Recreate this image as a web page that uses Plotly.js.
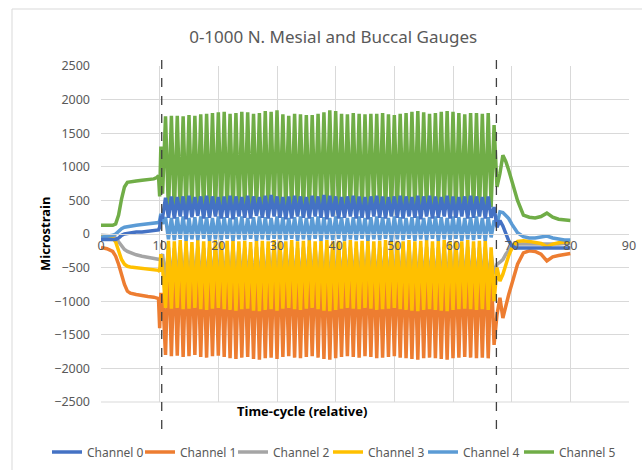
<!DOCTYPE html>
<html><head><meta charset="utf-8">
<script src="https://cdn.plot.ly/plotly-3.0.1.min.js"></script>
<style>html,body{margin:0;padding:0;background:#fff;}#chart{width:642px;height:470px;}</style>
</head><body><div id="chart"></div>
<script>
// ---- time axis (relative time-cycle) ----
var preTime = [0,1,2,2.5,3,3.5,4,4.5,5,6,7,8,9,9.5,9.8,10,10.2];
var cycleTime = [
10.5,11,11.5,12,12.5,13,13.5,14,14.5,15,15.5,16,16.5,17,17.5,18,18.5,19,19.5,20,
20.5,21,21.5,22,22.5,23,23.5,24,24.5,25,25.5,26,26.5,27,27.5,28,28.5,29,29.5,30,
30.5,31,31.5,32,32.5,33,33.5,34,34.5,35,35.5,36,36.5,37,37.5,38,38.5,39,39.5,40,
40.5,41,41.5,42,42.5,43,43.5,44,44.5,45,45.5,46,46.5,47,47.5,48,48.5,49,49.5,50,
50.5,51,51.5,52,52.5,53,53.5,54,54.5,55,55.5,56,56.5,57,57.5,58,58.5,59,59.5,60,
60.5,61,61.5,62,62.5,63,63.5,64,64.5,65,65.5,66,66.5,67];
var postTime = [67.5,68,68.5,69,69.5,70,70.5,71,72,73,74,75,76,77,78,79,80];

// ---- Channel 0 (dark blue) ----
var ch0Pre = [-80,-80,-90,-80,-60,-20,0,10,20,30,30,40,40,50,60,100,250];
var ch0Cycle = [
250,540, 240,560, 230,550, 260,560, 220,570, 250,550, 270,560, 230,570, 240,560, 260,550,
230,560, 240,570, 220,560, 260,550, 240,570, 230,560, 270,550, 240,570, 230,580, 260,560,
240,550, 220,560, 230,570, 260,560, 240,550, 230,570, 260,560, 240,580, 220,570, 260,560,
230,550, 240,560, 260,570, 230,560, 240,550, 220,560, 260,570, 240,560, 230,550, 260,560,
240,570, 230,560, 260,550, 240,570, 220,560, 260,570, 230,560, 240,550, 260,570, 230,560,
240,550, 260,560, 230,570, 240,560, 260,550, 230,560, 240,400];
var ch0Post = [100,200,120,0,-100,-170,-200,-210,-210,-210,-200,-210,-200,-210,-210,-210,-210];

// ---- Channel 1 (orange) ----
var ch1Pre = [-200,-220,-260,-330,-450,-600,-750,-850,-880,-900,-920,-930,-940,-950,-960,-1400,-900];
var ch1Cycle = [
-900,-1800, -300,-1820, -320,-1810, -280,-1830, -300,-1820, -330,-1800, -290,-1830, -310,-1840, -300,-1820, -280,-1810,
-320,-1830, -300,-1850, -290,-1860, -310,-1840, -300,-1830, -330,-1860, -290,-1870, -300,-1850, -310,-1840, -280,-1860,
-300,-1830, -320,-1820, -290,-1840, -310,-1850, -300,-1830, -280,-1820, -320,-1840, -300,-1860, -290,-1870, -310,-1850,
-300,-1830, -320,-1820, -290,-1830, -310,-1840, -300,-1820, -280,-1830, -320,-1850, -300,-1840, -290,-1830, -310,-1820,
-300,-1840, -320,-1850, -290,-1860, -310,-1870, -300,-1850, -280,-1840, -320,-1850, -300,-1860, -290,-1870, -310,-1850,
-300,-1840, -320,-1830, -290,-1840, -310,-1850, -300,-1840, -280,-1850, -500,-1650];
var ch1Post = [-1200,-950,-1250,-1050,-900,-750,-600,-450,-280,-250,-260,-300,-400,-340,-320,-300,-290];

// ---- Channel 2 (grey) ----
var ch2Pre = [-20,-20,-30,-60,-120,-180,-230,-260,-280,-310,-330,-350,-360,-370,-380,-380,-350];
var ch2Cycle = [
-300,-700, -200,-710, -210,-700, -190,-720, -200,-710, -220,-700, -190,-720, -210,-730, -200,-710, -190,-700,
-210,-720, -200,-730, -190,-740, -210,-720, -200,-710, -220,-740, -190,-750, -200,-730, -210,-720, -190,-740,
-200,-710, -210,-700, -190,-720, -210,-730, -200,-710, -190,-700, -210,-720, -200,-740, -190,-750, -210,-730,
-200,-710, -210,-700, -190,-710, -210,-720, -200,-700, -190,-710, -210,-730, -200,-720, -190,-710, -210,-700,
-200,-720, -210,-730, -190,-740, -210,-750, -200,-730, -190,-720, -210,-730, -200,-740, -190,-750, -210,-730,
-200,-720, -210,-710, -190,-720, -210,-730, -200,-720, -190,-730, -300,-600];
var ch2Post = [-450,-420,-380,-300,-230,-180,-160,-150,-150,-150,-150,-150,-160,-150,-150,-140,-140];

// ---- Channel 3 (yellow) ----
var ch3Pre = [-40,-40,-60,-120,-250,-380,-450,-480,-490,-500,-500,-510,-520,-530,-540,-560,-300];
var ch3Cycle = [
-500,-1100, -100,-1110, -110,-1100, -90,-1120, -100,-1110, -120,-1100, -90,-1120, -110,-1130, -100,-1110, -90,-1100,
-110,-1120, -100,-1130, -90,-1140, -110,-1120, -100,-1110, -120,-1140, -90,-1150, -100,-1130, -110,-1120, -90,-1140,
-100,-1110, -110,-1100, -90,-1120, -110,-1130, -100,-1110, -90,-1100, -110,-1120, -100,-1140, -90,-1150, -110,-1130,
-100,-1110, -110,-1100, -90,-1110, -110,-1120, -100,-1100, -90,-1110, -110,-1130, -100,-1120, -90,-1110, -110,-1100,
-100,-1120, -110,-1130, -90,-1140, -110,-1150, -100,-1130, -90,-1120, -110,-1130, -100,-1140, -90,-1150, -110,-1130,
-100,-1120, -110,-1110, -90,-1120, -110,-1130, -100,-1120, -90,-1130, -200,-1000];
var ch3Post = [-500,-700,-600,-450,-320,-220,-150,-110,-100,-110,-120,-140,-190,-150,-130,-120,-110];

// ---- Channel 4 (light blue) ----
var ch4Pre = [-50,-40,-20,0,40,80,100,110,120,130,140,150,150,160,170,200,300];
var ch4Cycle = [
150,250, -80,240, -90,250, -70,260, -100,240, -80,250, -90,260, -70,250, -100,240, -80,260,
-90,250, -70,240, -100,250, -80,260, -90,240, -70,250, -100,260, -80,250, -90,240, -70,260,
-80,250, -90,240, -70,250, -100,260, -80,240, -90,250, -70,260, -100,250, -80,240, -90,260,
-70,250, -100,240, -80,250, -90,260, -70,240, -100,250, -80,260, -90,250, -70,240, -100,260,
-80,250, -90,240, -70,250, -100,260, -80,240, -90,250, -70,260, -100,250, -80,240, -90,260,
-70,250, -100,240, -80,250, -90,260, -70,240, -100,250, -50,200];
var ch4Post = [150,330,320,280,230,150,80,20,-40,-60,-60,-50,-30,-60,-80,-90,-90];

// ---- Channel 5 (green) ----
var ch5Pre = [130,130,130,150,280,520,700,770,780,790,800,810,820,840,870,560,1300];
var ch5Cycle = [
600,1750, 320,1760, 300,1760, 280,1750, 290,1770, 320,1760, 300,1780, 280,1790, 270,1800, 290,1810,
320,1820, 300,1790, 280,1800, 270,1820, 290,1810, 320,1790, 300,1800, 280,1830, 270,1820, 290,1840,
320,1780, 340,1760, 300,1790, 280,1780, 270,1770, 290,1770, 320,1790, 300,1810, 280,1840, 270,1830,
290,1790, 320,1780, 300,1800, 280,1790, 270,1780, 290,1790, 320,1790, 300,1800, 280,1780, 270,1770,
290,1790, 320,1800, 300,1820, 280,1830, 270,1810, 290,1790, 320,1800, 300,1820, 280,1830, 270,1820,
290,1800, 320,1780, 300,1800, 280,1800, 270,1790, 290,1800, 400,1620];
var ch5Post = [700,900,1170,1080,950,800,650,500,280,250,240,260,310,250,220,210,200];

var names = ["Channel 0","Channel 1","Channel 2","Channel 3","Channel 4","Channel 5"];
var colors = ["#4472C4","#ED7D31","#A5A5A5","#FFC000","#5B9BD5","#70AD47"];
var series = [
  [ch0Pre,ch0Cycle,ch0Post],[ch1Pre,ch1Cycle,ch1Post],[ch2Pre,ch2Cycle,ch2Post],
  [ch3Pre,ch3Cycle,ch3Post],[ch4Pre,ch4Cycle,ch4Post],[ch5Pre,ch5Cycle,ch5Post]];
var time = preTime.concat(cycleTime, postTime);
var drawOrder = [1,2,3,4,5,0];
var legendIds = ['legend','legend2','legend3','legend4','legend5','legend6'];
var traces = drawOrder.map(function(i){
  return {x: time, y: series[i][0].concat(series[i][1], series[i][2]), type:'scatter', mode:'lines',
    name: names[i], legend: legendIds[i], line:{color: colors[i], width: 3.5}};
});

var px = function(p){ return (p-101)/528; };
var py = function(p){ return (402-p)/336; };
var layout = {
  width:642, height:470,
  margin:{l:101, r:13, t:66, b:68},
  paper_bgcolor:'#fff', plot_bgcolor:'#fff',
  font:{family:'Noto Sans, sans-serif', color:'#595959', size:12},
  title:{text:'0-1000 N. Mesial and Buccal Gauges', font:{size:17, color:'#595959'},
         xref:'container', x:0.519, xanchor:'center', yref:'container', y:1-37/470, yanchor:'middle'},
  xaxis:{range:[0,90], dtick:10, tick0:0, showgrid:true, gridcolor:'#d9d9d9', gridwidth:1,
         zeroline:false, showline:true, linecolor:'#d9d9d9', anchor:'free', position:0.5,
         ticks:'', tickfont:{size:12.5, color:'#595959'}},
  yaxis:{range:[-2500,2500], dtick:500, showgrid:true, gridcolor:'#d9d9d9', gridwidth:1,
         zeroline:false, showline:false, ticks:'', ticklabelstandoff:10,
         tickfont:{size:12.5, color:'#595959'}},
  showlegend:true,
  annotations:[
    {text:'<b>Microstrain</b>', xref:'paper', yref:'paper', x:px(45), y:0.5, textangle:-90,
     showarrow:false, font:{size:13, color:'#000'}, xanchor:'center', yanchor:'middle'},
    {text:'<b>Time-cycle (relative)</b>', xref:'paper', yref:'paper', x:px(302), y:py(411),
     showarrow:false, font:{size:13, color:'#000'}, xanchor:'center', yanchor:'middle'}
  ],
  shapes:[
    {type:'rect', xref:'paper', yref:'paper', x0:px(12), x1:px(660), y0:py(9), y1:py(490),
     line:{color:'#d9d9d9', width:1}, fillcolor:'rgba(0,0,0,0)', layer:'below'},
    {type:'line', xref:'paper', yref:'paper', x0:0, x1:1, y0:0, y1:0, line:{color:'#d9d9d9', width:1}},
    {type:'line', xref:'x', yref:'paper', x0:10.35, x1:10.35, y0:py(60), y1:py(432),
     line:{color:'#404040', width:1.3, dash:'dash'}},
    {type:'line', xref:'x', yref:'paper', x0:67.4, x1:67.4, y0:py(60), y1:py(432),
     line:{color:'#404040', width:1.3, dash:'dash'}}
  ]
};
var legendX = [55,148,241,336,431,527];
legendIds.forEach(function(id, k){
  layout[id] = {orientation:'h', xref:'container', x:(legendX[k]-8)/642, xanchor:'left',
    yref:'container', y:1-452/470, yanchor:'middle', font:{size:12, color:'#595959'},
    itemwidth:30, bgcolor:'rgba(0,0,0,0)', borderwidth:0};
});
Plotly.newPlot('chart', traces, layout, {displayModeBar:false, staticPlot:true});
</script></body></html>
